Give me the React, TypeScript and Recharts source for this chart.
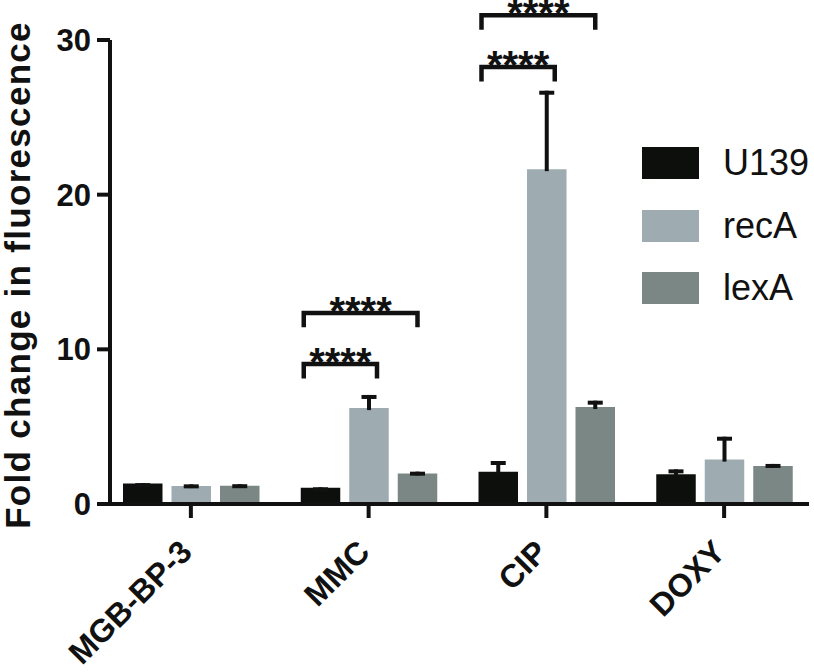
import { BarChart, Bar, XAxis, YAxis, Legend, LabelList, Label } from 'recharts';

const categories = ['MGB-BP-3', 'MMC', 'CIP', 'DOXY'];
const u139 = [1.33, 1.05, 2.09, 1.92];
const u139Err = [0.02, 0.03, 0.69, 0.32];
const recA = [1.16, 6.2, 21.65, 2.87];
const recAErr = [0.11, 0.85, 5.07, 1.48];
const lexA = [1.18, 1.98, 6.27, 2.46];
const lexAErr = [0.1, 0.11, 0.41, 0.13];
const yTicks = [0, 10, 20, 30];

const seriesNames = ['U139', 'recA', 'lexA'];
const COLORS = ['#0d0f0d', '#9eacb2', '#7a8784'];

// significance brackets, drawn from the recA bar of each category
const bracketCats = ['MMC', 'MMC', 'CIP', 'CIP'];
const bracketSpan = [1, 2, 1, 2]; // 1 = U139 vs recA, 2 = U139 vs lexA
const bracketY = [9.05, 12.35, 28.25, 31.6];
const bracketText = ['****', '****', '****', '****'];

const FONT = '"Liberation Sans", Arial, Helvetica, sans-serif';
const INK = '#111';
const BAR_GAP = 9;

const data = categories.map((c, i) => ({
  name: c,
  u139: u139[i],
  u139Err: u139Err[i],
  recA: recA[i],
  recAErr: recAErr[i],
  lexA: lexA[i],
  lexAErr: lexAErr[i],
}));

const ErrShape = (props: any) => {
  const { x, y, width, height } = props;
  const cx = x + width / 2;
  return (
    <g>
      <rect x={cx - 2} y={y} width={4} height={Math.max(height, 0) + 2} fill={INK} />
      <rect x={cx - 7.5} y={y} width={15} height={4} fill={INK} />
    </g>
  );
};

const Brackets = (props: any) => {
  const { x, y, width, height, index } = props;
  const ppu = height / recA[index];
  const base = y + height;
  const step = width + BAR_GAP;
  const out: any[] = [];
  bracketCats.forEach((c, k) => {
    if (c !== categories[index]) return;
    const left = x - step + 3;
    const right = bracketSpan[k] === 1 ? x + width / 2 + 8 : x + step + width / 2;
    const top = base - bracketY[k] * ppu;
    const legs = 0.8 * ppu;
    out.push(
      <g key={k}>
        <path
          d={`M${left},${top + legs + 2} L${left},${top} L${right},${top} L${right},${top + legs + 2}`}
          fill="none"
          stroke={INK}
          strokeWidth={4.5}
        />
        <text
          x={(left + right) / 2}
          y={top + 12}
          textAnchor="middle"
          fontFamily={FONT}
          fontWeight="bold"
          fontSize={40}
          fill={INK}
        >
          {bracketText[k]}
        </text>
      </g>
    );
  });
  return <g>{out}</g>;
};

const XTick = (props: any) => {
  const { x, y, payload } = props;
  return (
    <text
      transform={`translate(${x + 3},${y + 34}) rotate(-45)`}
      textAnchor="end"
      fontFamily={FONT}
      fontWeight="bold"
      fontSize={32}
      fill={INK}
    >
      {payload.value}
    </text>
  );
};

const YLabel = (props: any) => {
  const vb = props.viewBox;
  const cy = vb.y + vb.height / 2 + 3;
  return (
    <text
      transform={`translate(30,${cy}) rotate(-90)`}
      textAnchor="middle"
      fontFamily={FONT}
      fontWeight="bold"
      fontSize={35}
      letterSpacing={1.3}
      fill={INK}
    >
      Fold change in fluorescence
    </text>
  );
};

const LegendBox = () => (
  <div style={{ fontFamily: FONT }}>
    {seriesNames.map((n, i) => (
      <div key={n} style={{ display: 'flex', alignItems: 'center', height: 32, marginBottom: 30.7 }}>
        <div style={{ width: 57, height: 32, background: COLORS[i] }} />
        <span style={{ marginLeft: 24, fontSize: 36, color: INK, lineHeight: '32px' }}>{n}</span>
      </div>
    ))}
  </div>
);

export default function App() {
  return (
    <div style={{ position: 'absolute', left: 0, top: 0, background: '#fff' }}>
      <BarChart
        width={814}
        height={672}
        data={data}
        margin={{ top: 40, right: 5, bottom: 0, left: 0 }}
        barGap={BAR_GAP}
        barSize={39.5}
        style={{ fontFamily: FONT }}
      >
        <XAxis
          dataKey="name"
          height={168}
          padding={{ left: -8, right: -4 }}
          axisLine={{ stroke: INK, strokeWidth: 4 }}
          tickLine={{ stroke: INK, strokeWidth: 4 }}
          tickSize={14}
          tick={<XTick />}
          interval={0}
        />
        <YAxis
          width={110}
          domain={[0, 30]}
          ticks={yTicks}
          axisLine={{ stroke: INK, strokeWidth: 4 }}
          tickLine={{ stroke: INK, strokeWidth: 4 }}
          tickSize={13}
          tickMargin={6}
          tick={{ fill: INK, fontSize: 31, fontWeight: 'bold', fontFamily: FONT }}
        >
          <Label content={<YLabel />} />
        </YAxis>
        <Legend
          layout="horizontal"
          align="center"
          verticalAlign="middle"
          content={<LegendBox />}
          wrapperStyle={{ position: 'absolute', left: 642, top: 147, width: 172 }}
        />
        <Bar dataKey="u139" stackId="a" fill={COLORS[0]} isAnimationActive={false} name="U139" />
        <Bar dataKey="u139Err" stackId="a" shape={<ErrShape />} isAnimationActive={false} legendType="none" />
        <Bar dataKey="recA" stackId="b" fill={COLORS[1]} isAnimationActive={false} name="recA">
          <LabelList dataKey="recA" content={<Brackets />} />
        </Bar>
        <Bar dataKey="recAErr" stackId="b" shape={<ErrShape />} isAnimationActive={false} legendType="none" />
        <Bar dataKey="lexA" stackId="c" fill={COLORS[2]} isAnimationActive={false} name="lexA" />
        <Bar dataKey="lexAErr" stackId="c" shape={<ErrShape />} isAnimationActive={false} legendType="none" />
      </BarChart>
    </div>
  );
}
